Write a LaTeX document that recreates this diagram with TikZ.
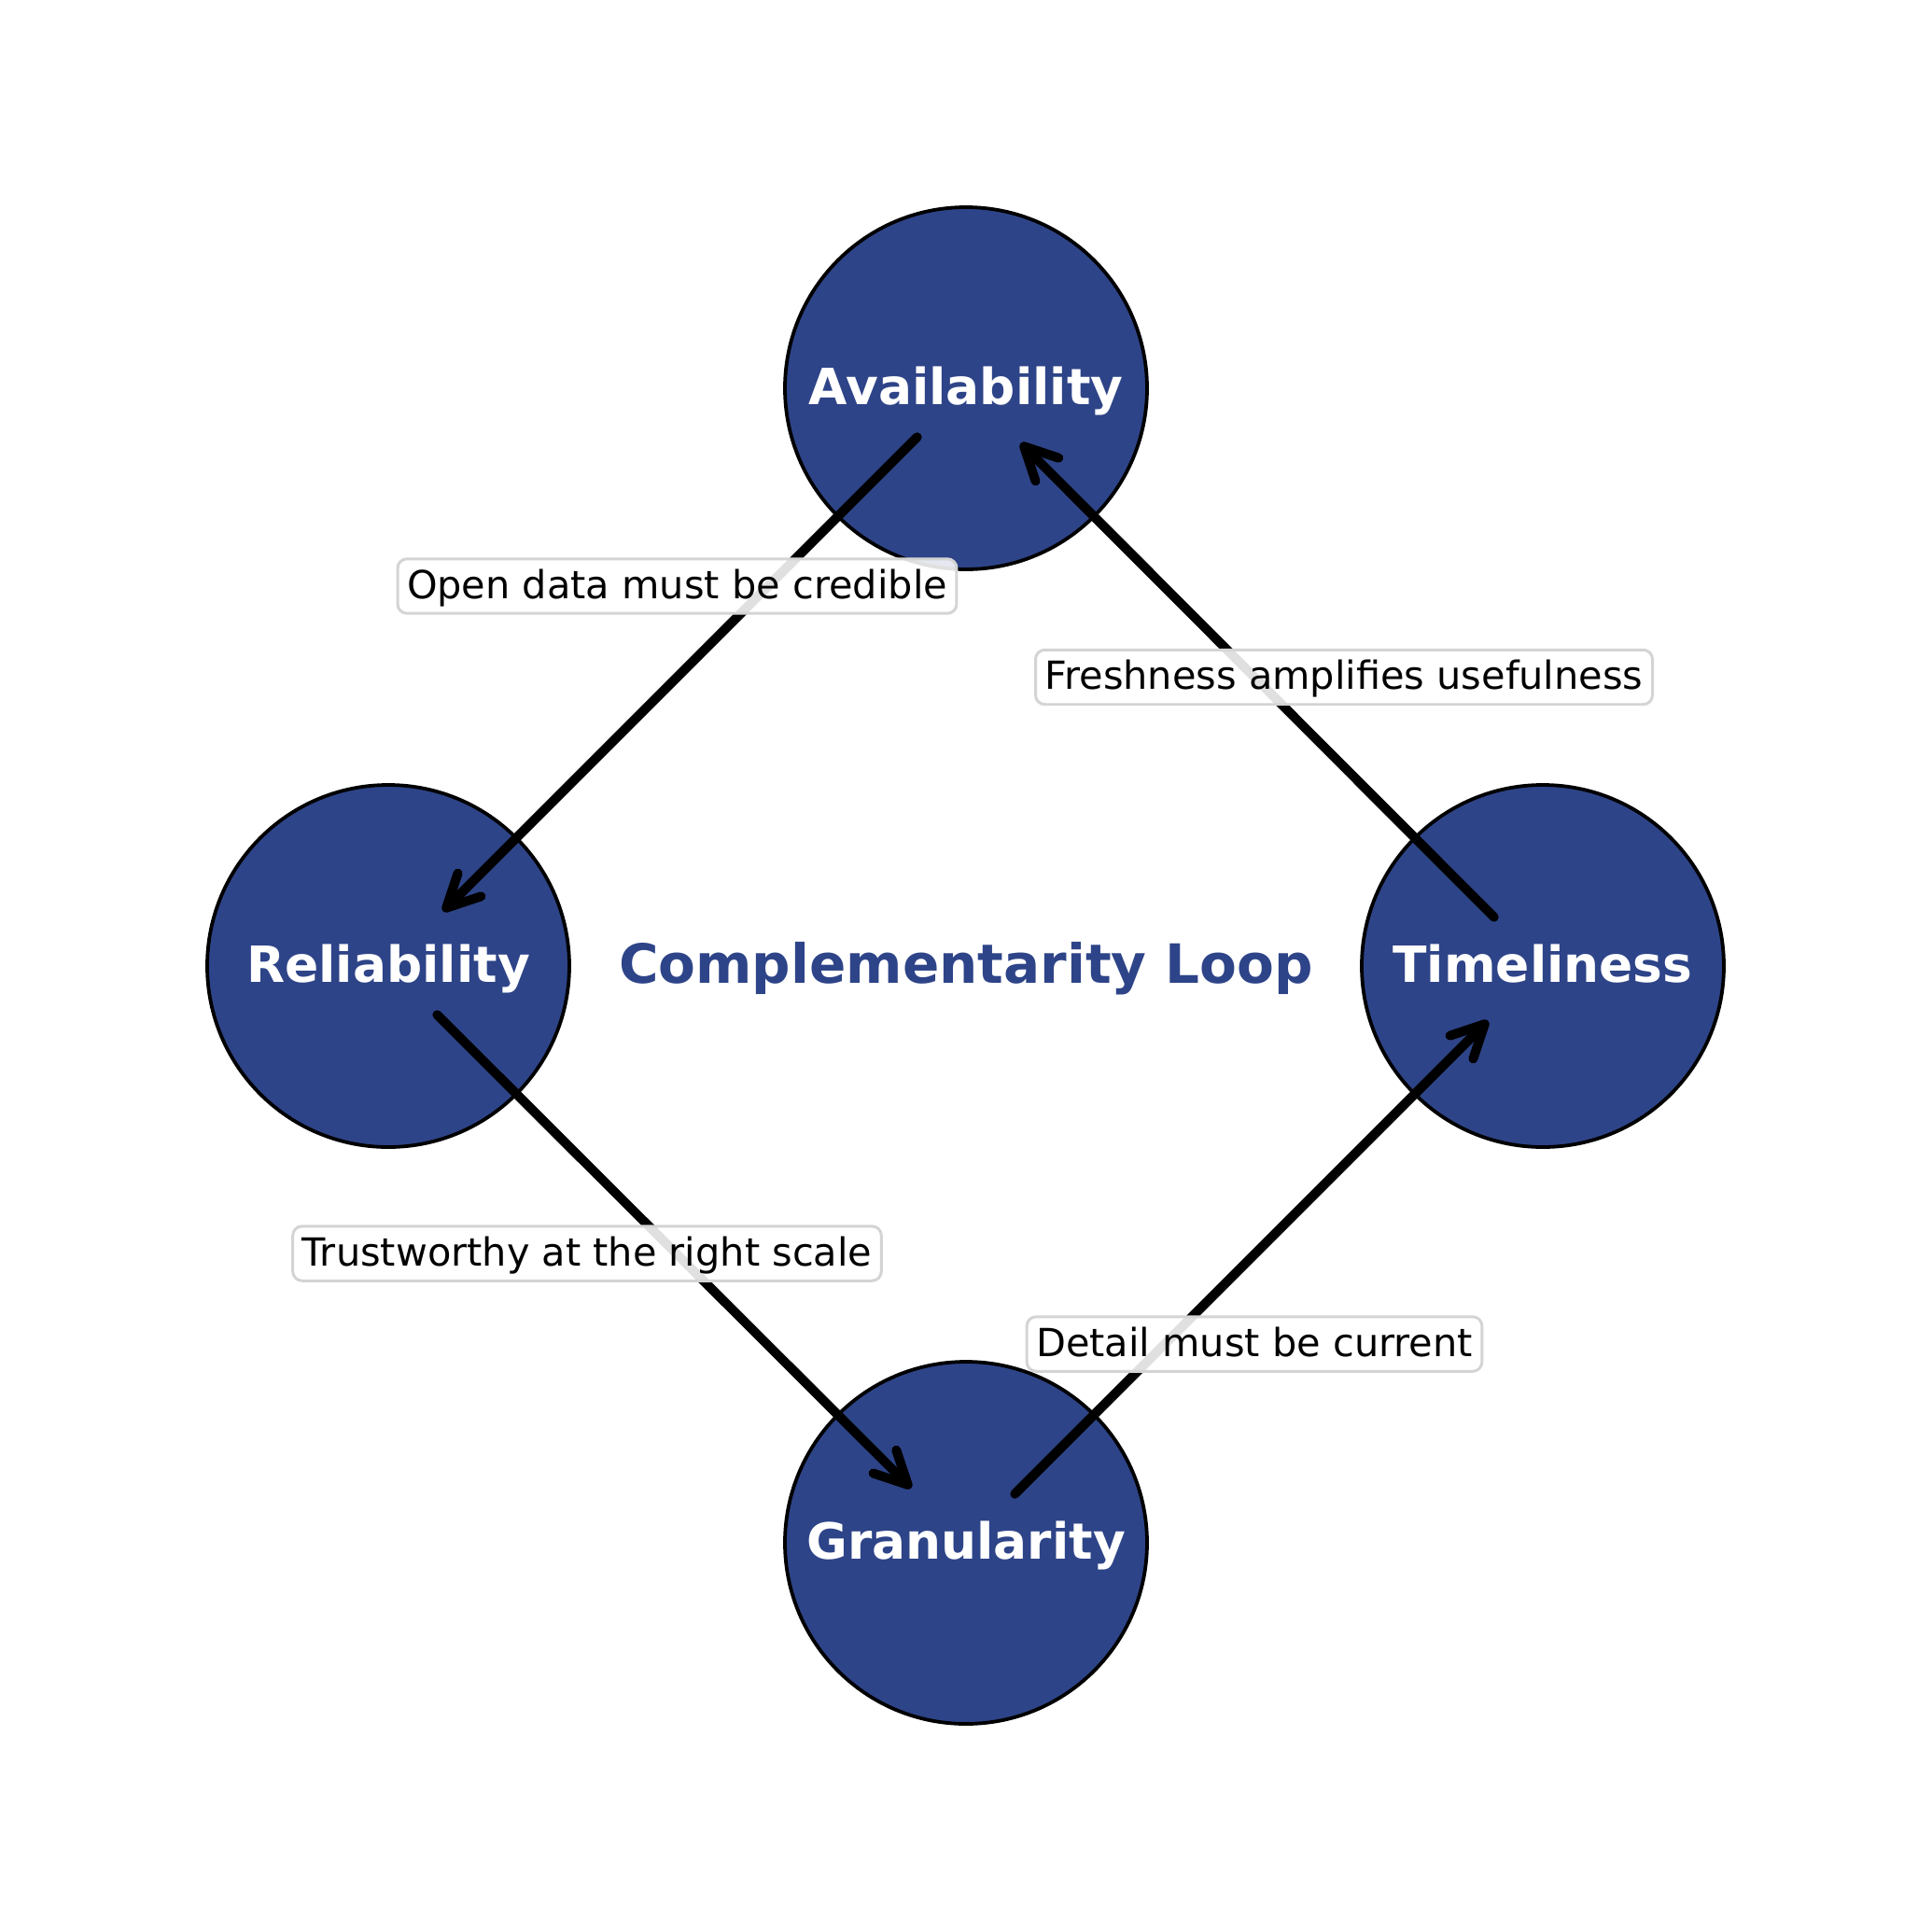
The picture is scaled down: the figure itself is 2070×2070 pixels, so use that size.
\documentclass[tikz,border=0pt]{standalone}
\usepackage{fontspec}
\setmainfont{DejaVu Sans}
\usetikzlibrary{arrows.meta}
\definecolor{navy}{RGB}{46,68,136}
\definecolor{boxgrey}{RGB}{212,212,212}
\begin{document}
\begin{tikzpicture}[x=0.1mm,y=-0.1mm,
  circ/.style={circle, draw=black, line width=0.38mm, fill=navy, minimum size=38.8mm, inner sep=0pt, text=white, text height=13.6pt, text depth=3.5pt, font=\fontsize{15.2pt}{18pt}\selectfont\bfseries},
  lbl/.style={draw=boxgrey, line width=0.3mm, fill=white, fill opacity=0.88, text opacity=1, draw opacity=1, rounded corners=1mm, inner xsep=1mm, inner ysep=0.85mm, text height=9.6pt, text depth=2.2pt, font=\fontsize{11.8pt}{14pt}\selectfont},
  conn/.style={line width=1.0mm, line cap=round, line join=round, -{Straight Barb[length=3.5mm,width=3.5mm,round]}, shorten <=7.4mm, shorten >=8.3mm},
  titletext/.style={text=navy, text height=14.2pt, text depth=3.8pt, font=\fontsize{16.5pt}{20pt}\selectfont\bfseries}
]
\useasboundingbox (0,0) rectangle (2070,2070);
\node[circ] (A) at (1035,416) {Availability};
\node[circ] (R) at (416,1035) {Reliability};
\node[circ] (T) at (1653,1035) {Timeliness};
\node[circ] (G) at (1035,1653) {Granularity};
\node[titletext] (title) at (1035,1035) {Complementarity Loop};
\draw[conn] (A.center) -- (R.center);
\draw[conn] (R.center) -- (G.center);
\draw[conn] (G.center) -- (T.center);
\draw[conn] (T.center) -- (A.center);
\node[lbl] (l1) at (725.5,628) {Open data must be credible};
\node[lbl] (l2) at (1440,725.5) {Freshness amplifies usefulness};
\node[lbl] (l3) at (629,1343) {Trustworthy at the right scale};
\node[lbl] (l4) at (1344,1440) {Detail must be current};
\end{tikzpicture}
\end{document}
